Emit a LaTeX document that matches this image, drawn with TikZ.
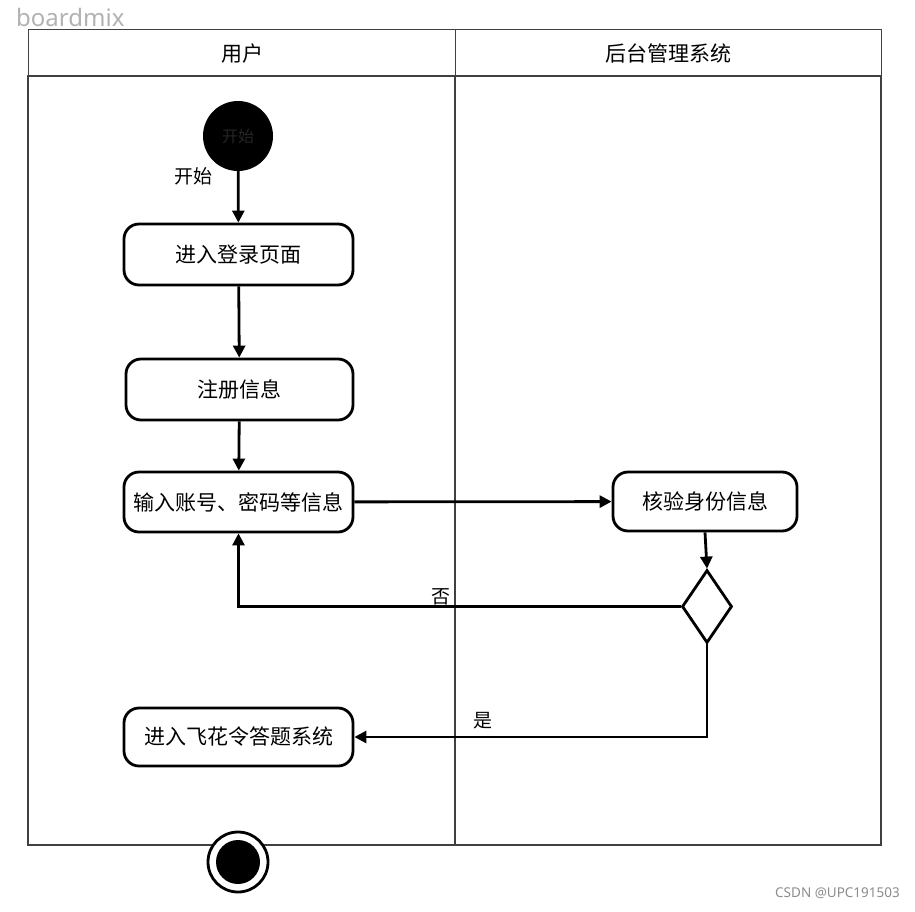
\documentclass[tikz,border=0pt]{standalone}
\usepackage{fontspec}
\setmainfont{Noto Sans CJK SC}
\newfontfamily\wmfont{Noto Sans}
\usetikzlibrary{arrows.meta,shapes.geometric}
\begin{document}
\begin{tikzpicture}[x=1pt,y=-1pt,
  frame/.style={draw=black!75,line width=1.1pt},
  act/.style={draw,line width=2.8pt,rounded corners=15pt,fill=white,font=\fontsize{21}{23}\selectfont},
  flow/.style={line width=2.8pt,-{Triangle[length=12pt,width=12pt]}},
  lbl/.style={font=\fontsize{19}{21}\selectfont,inner sep=0pt}]
\useasboundingbox (0,0) rectangle (915,911);
% swimlanes
\node[frame,minimum width=427pt,minimum height=47pt,anchor=north west,inner sep=0pt,font=\fontsize{21}{23}\selectfont] (h1) at (28,29) {用户};
\node[frame,minimum width=426pt,minimum height=47pt,anchor=north west,inner sep=0pt,font=\fontsize{21}{23}\selectfont] (h2) at (455,29) {后台管理系统};
\draw[frame] (28,76) rectangle (455,845);
\draw[frame] (455,76) rectangle (881,845);
% watermarks
\node[anchor=west,text=black!30,font=\fontsize{24}{26}\selectfont\wmfont,inner sep=0pt] (wm1) at (16,17) {boardmix};
\node[anchor=east,text=black!45,font=\fontsize{13.5}{15}\selectfont\wmfont,inner sep=0pt] (wm2) at (900,893) {CSDN @UPC191503};
% start
\node[circle,fill=black,minimum size=70pt,inner sep=0pt,text=black!85,font=\fontsize{16}{18}\selectfont] (start) at (238,136) {开始};
\node[lbl] (startlbl) at (193,176) {开始};
% activities
\node[act,minimum width=229pt,minimum height=61pt] (a1) at (238.5,254.5) {进入登录页面};
\node[act,minimum width=227pt,minimum height=61pt] (a2) at (239.5,389.5) {注册信息};
\node[act,minimum width=229pt,minimum height=60pt,inner sep=2pt] (a3) at (238.5,502) {输入账号、密码等信息};
\node[act,minimum width=184pt,minimum height=59pt] (a4) at (705,501.5) {核验身份信息};
\node[draw,diamond,line width=2.8pt,fill=white,minimum width=50pt,minimum height=73pt,inner sep=0pt,aspect=0.68] (d) at (707,606.5) {};
\node[act,minimum width=229pt,minimum height=58pt] (a5) at (238.5,737) {进入飞花令答题系统};
% end
\node[circle,draw,line width=2.8pt,fill=white,minimum size=60pt,inner sep=0pt] (end) at (238,862) {};
\node[circle,fill=black,minimum size=44pt,inner sep=0pt] (endin) at (end) {};
% flows
\draw[flow] (start) -- (a1);
\draw[flow] (a1) -- (a2);
\draw[flow] (a2) -- (a3);
\draw[flow] (a3) -- (a4);
\draw[flow] (a4.south) -- (d.north);
\draw[flow] (d.west) -- (a3.south |- d.west) -- (a3.south);
\draw[flow] (d.south) |- (a5.east);
\node[lbl] (no) at (441,597) {否};
\node[lbl] (yes) at (483,721) {是};
\end{tikzpicture}
\end{document}
